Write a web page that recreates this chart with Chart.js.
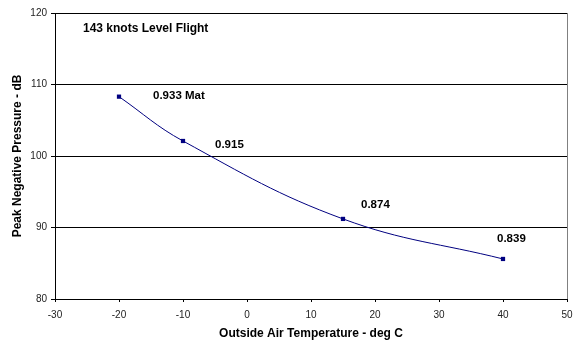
<!DOCTYPE html>
<html>
<head>
<meta charset="utf-8">
<script src="https://cdn.jsdelivr.net/npm/chart.js@4/dist/chart.umd.min.js"></script>
<style>
   html, body { margin: 0; padding: 0; background: #ffffff; }
   #wrap { width: 573px; height: 341px; }
</style>
</head>
<body>
<div id="wrap"><canvas id="graphique" width="573" height="341"></canvas></div>
<script>
// Données
const temperatures = [-20, -10, 15, 40];
const pressions = [108.3, 102.1, 91.2, 85.6];
const machLabels = ['0.933 Mat', '0.915', '0.874', '0.839'];
const xTicks = [-30, -20, -10, 0, 10, 20, 30, 40, 50];
const yTicks = [80, 90, 100, 110, 120];
const titreCourbe = '143 knots Level Flight';

// Décalage (px) des étiquettes par rapport aux points
const labelOffsets = [
   { dx: 34, dy: -1 },
   { dx: 32, dy: 4 },
   { dx: 18, dy: -14 },
   { dx: -6, dy: -20 }
];

const navy = '#000080';
const fontFamily = 'Arial, "Liberation Sans", sans-serif';

// Étiquettes des points + titre dans la zone + bord droit gris
const annotationsPlugin = {
   id: 'annotations',
   afterDatasetsDraw(chart) {
      const ctx = chart.ctx;
      const area = chart.chartArea;
      const xScale = chart.scales.x;
      const yScale = chart.scales.y;
      ctx.save();
      // bord droit
      ctx.strokeStyle = '#808080';
      ctx.lineWidth = 1;
      ctx.beginPath();
      ctx.moveTo(Math.round(area.right) + 0.5, area.top);
      ctx.lineTo(Math.round(area.right) + 0.5, area.bottom);
      ctx.stroke();

      ctx.fillStyle = '#000';
      ctx.textBaseline = 'middle';
      ctx.textAlign = 'left';
      ctx.font = 'bold 12px ' + fontFamily;
      ctx.fillText(titreCourbe, area.left + 28, yScale.getPixelForValue(117.75));

      ctx.font = 'bold 11.5px ' + fontFamily;
      temperatures.forEach(function (t, i) {
         const px = xScale.getPixelForValue(t);
         const py = yScale.getPixelForValue(pressions[i]);
         ctx.fillText(machLabels[i], px + labelOffsets[i].dx, py + labelOffsets[i].dy);
      });
      ctx.restore();
   }
};

new Chart(
   document.getElementById('graphique'),
   {
      type: 'scatter',
      data: {
         datasets: [
            {
               label: 'Peak Negative Pressure',
               data: temperatures.map(function (t, i) { return { x: t, y: pressions[i] }; }),
               showLine: true,
               tension: 0.4,
               borderColor: navy,
               borderWidth: 1,
               backgroundColor: navy,
               pointStyle: 'rect',
               pointRadius: 3,
               pointBackgroundColor: navy,
               pointBorderColor: navy,
               pointBorderWidth: 0
            }
         ]
      },
      options: {
         responsive: false,
         animation: false,
         layout: {
            padding: { left: 0, top: 13, right: 6, bottom: 0 }
         },
         plugins: {
            legend: { display: false },
            tooltip: { enabled: false }
         },
         scales: {
            x: {
               type: 'linear',
               min: xTicks[0],
               max: xTicks[xTicks.length - 1],
               afterBuildTicks: function (scale) {
                  scale.ticks = xTicks.map(function (v) { return { value: v }; });
               },
               afterFit: function (scale) {
                  scale.height = 42;
                  scale.paddingLeft = 0;
                  scale.paddingRight = 0;
               },
               ticks: {
                  color: '#222',
                  padding: 7,
                  maxRotation: 0,
                  font: { family: fontFamily, size: 10 }
               },
               grid: {
                  drawOnChartArea: false,
                  drawTicks: true,
                  tickLength: 3,
                  color: '#000'
               },
               border: { color: '#000', width: 1 },
               title: {
                  display: true,
                  text: 'Outside Air Temperature - deg C',
                  color: '#000',
                  font: { family: fontFamily, size: 12, weight: 'bold' },
                  padding: { top: 4, bottom: 0 }
               }
            },
            y: {
               min: yTicks[0],
               max: yTicks[yTicks.length - 1],
               afterBuildTicks: function (scale) {
                  scale.ticks = yTicks.map(function (v) { return { value: v }; });
               },
               afterFit: function (scale) {
                  scale.width = 55;
                  scale.paddingTop = 0;
                  scale.paddingBottom = 0;
               },
               ticks: {
                  color: '#222',
                  padding: 4,
                  font: { family: fontFamily, size: 10 }
               },
               grid: {
                  color: '#000',
                  lineWidth: 1,
                  tickLength: 4
               },
               border: { color: '#000', width: 1 },
               title: {
                  display: true,
                  text: 'Peak Negative Pressure - dB',
                  color: '#000',
                  font: { family: fontFamily, size: 12, weight: 'bold' },
                  padding: { top: 10, bottom: 4 }
               }
            }
         }
      },
      plugins: [annotationsPlugin]
   }
);
</script>
</body>
</html>
